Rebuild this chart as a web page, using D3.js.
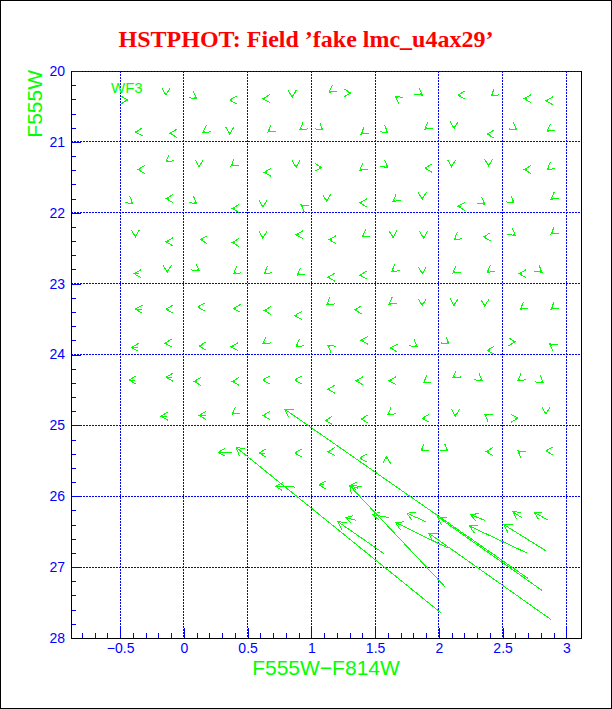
<!DOCTYPE html>
<html><head><meta charset="utf-8">
<script src="https://cdn.jsdelivr.net/npm/d3@7"></script>
<style>body{margin:0;background:#fff}</style>
</head><body><svg id="box" width="612" height="709"></svg>
<script>
// tick values
let xTicks=[-0.5,0,0.5,1,1.5,2,2.5,3];
let yTicks=[20,21,22,23,24,25,26,27,28];
// fake stars: [colour out, mag out, colour in, mag in] (arrow points to the "out" end)
let gridStars=[
[-0.44,20.41,-0.46,20.41],[-0.14,20.34,-0.14,20.31],[0.10,20.39,0.085,20.37],[0.36,20.41,0.38,20.41],[0.62,20.39,0.64,20.39],[0.85,20.37,0.85,20.34],[1.14,20.30,1.155,20.28],[1.31,20.31,1.29,20.31],[1.66,20.36,1.675,20.38],[1.87,20.34,1.855,20.32],[2.15,20.34,2.17,20.34],[2.41,20.35,2.425,20.33],[2.67,20.39,2.69,20.39],[2.84,20.42,2.86,20.42],
[-0.38,20.86,-0.36,20.86],[-0.11,20.88,-0.09,20.88],[0.15,20.87,0.165,20.85],[0.36,20.89,0.36,20.86],[0.66,20.86,0.675,20.84],[0.91,20.83,0.925,20.81],[1.09,20.83,1.075,20.81],[1.39,20.89,1.405,20.87],[1.60,20.87,1.585,20.85],[1.89,20.82,1.905,20.80],[2.12,20.81,2.12,20.78],[2.38,20.89,2.40,20.89],[2.61,20.83,2.595,20.81],[2.85,20.85,2.865,20.83],
[-0.36,21.39,-0.34,21.39],[-0.14,21.28,-0.125,21.26],[0.12,21.35,0.12,21.32],[0.37,21.34,0.385,21.32],[0.63,21.43,0.65,21.43],[0.88,21.36,0.88,21.33],[1.08,21.36,1.06,21.36],[1.38,21.40,1.395,21.38],[1.60,21.36,1.585,21.34],[1.89,21.37,1.91,21.37],[2.10,21.35,2.10,21.32],[2.39,21.34,2.39,21.31],[2.67,21.39,2.69,21.39],[2.85,21.39,2.865,21.37],
[-0.40,21.87,-0.415,21.85],[-0.14,21.80,-0.12,21.80],[0.10,21.87,0.085,21.85],[0.38,21.94,0.40,21.94],[0.62,21.92,0.62,21.89],[0.92,21.89,0.935,21.91],[1.12,21.84,1.12,21.81],[1.38,21.86,1.40,21.86],[1.64,21.84,1.655,21.82],[1.87,21.81,1.87,21.78],[2.15,21.91,2.17,21.91],[2.36,21.88,2.345,21.86],[2.59,21.86,2.575,21.84],[2.88,21.81,2.895,21.79],
[-0.38,22.34,-0.38,22.31],[-0.14,22.41,-0.12,22.41],[0.13,22.38,0.15,22.38],[0.38,22.42,0.40,22.42],[0.62,22.36,0.62,22.33],[0.88,22.31,0.90,22.31],[1.14,22.38,1.16,22.38],[1.40,22.34,1.415,22.32],[1.64,22.35,1.64,22.32],[1.88,22.36,1.88,22.33],[2.12,22.38,2.135,22.36],[2.35,22.34,2.37,22.34],[2.60,22.32,2.585,22.30],[2.88,22.30,2.895,22.28],
[-0.39,22.86,-0.35,22.86],[-0.13,22.84,-0.13,22.81],[0.12,22.82,0.105,22.80],[0.39,22.86,0.405,22.84],[0.63,22.86,0.645,22.84],[0.89,22.88,0.905,22.86],[1.13,22.91,1.15,22.91],[1.38,22.88,1.40,22.88],[1.63,22.83,1.645,22.81],[1.87,22.86,1.87,22.83],[2.11,22.85,2.125,22.83],[2.38,22.84,2.395,22.82],[2.63,22.86,2.65,22.86],[2.81,22.84,2.795,22.82],
[-0.38,23.36,-0.33,23.36],[-0.14,23.36,-0.12,23.36],[0.11,23.33,0.13,23.33],[0.39,23.35,0.41,23.35],[0.63,23.38,0.65,23.38],[0.87,23.45,0.89,23.45],[1.12,23.30,1.135,23.28],[1.34,23.37,1.36,23.37],[1.61,23.29,1.625,23.27],[1.87,23.31,1.87,23.28],[2.12,23.31,2.12,23.28],[2.36,23.32,2.36,23.29],[2.64,23.36,2.655,23.34],[2.88,23.36,2.895,23.34],
[-0.41,23.90,-0.36,23.90],[-0.15,23.84,-0.13,23.84],[0.12,23.88,0.14,23.88],[0.37,23.89,0.39,23.89],[0.62,23.85,0.635,23.83],[0.88,23.89,0.895,23.87],[1.13,23.87,1.145,23.89],[1.39,23.80,1.41,23.80],[1.62,23.91,1.64,23.91],[1.83,23.89,1.815,23.87],[2.08,23.85,2.065,23.83],[2.38,23.94,2.40,23.94],[2.60,23.82,2.58,23.82],[2.87,23.85,2.885,23.87],
[-0.43,24.36,-0.38,24.36],[-0.14,24.32,-0.09,24.32],[0.08,24.38,0.10,24.38],[0.38,24.38,0.40,24.38],[0.62,24.36,0.64,24.36],[0.87,24.36,0.89,24.36],[1.13,24.49,1.15,24.49],[1.35,24.37,1.37,24.37],[1.61,24.37,1.63,24.37],[1.88,24.40,1.895,24.38],[2.11,24.33,2.125,24.31],[2.34,24.37,2.325,24.35],[2.62,24.37,2.635,24.35],[2.82,24.40,2.805,24.38],
[-0.18,24.87,-0.13,24.87],[0.12,24.86,0.17,24.86],[0.38,24.84,0.395,24.82],[0.62,24.86,0.64,24.86],[1.11,24.93,1.13,24.93],[1.39,24.91,1.41,24.91],[1.60,24.85,1.615,24.83],[1.87,24.90,1.89,24.90],[2.13,24.87,2.13,24.84],[2.36,24.84,2.375,24.86],[2.62,24.90,2.60,24.90],[2.84,24.84,2.84,24.81],
[0.27,25.38,0.38,25.38],[0.59,25.39,0.64,25.39],[0.87,25.39,0.89,25.39],[1.13,25.37,1.15,25.37],[1.38,25.46,1.40,25.46],[1.59,25.44,1.59,25.47],[1.86,25.36,1.875,25.34],[2.07,25.36,2.055,25.34],[2.37,25.37,2.39,25.37],[2.62,25.36,2.635,25.38],[2.84,25.36,2.86,25.36],
[0.72,25.86,0.87,25.87],[1.06,25.84,1.10,25.84],[1.30,25.85,1.40,25.86],
[1.27,26.30,1.35,26.34],[1.48,26.26,1.61,26.30],[1.75,26.24,1.90,26.36],[2.25,26.26,2.36,26.34],[2.58,26.22,2.65,26.30],[2.75,26.23,2.86,26.34]
];
let faintStars=[
[0.79,24.77,2.70,27.16],[0.41,25.31,2.02,27.65],[1.30,25.85,2.05,27.28],[1.21,26.36,1.57,26.81],
[1.66,26.37,2.07,26.73],[1.99,26.29,2.81,27.33],[1.92,26.52,2.88,27.74],[2.24,26.42,2.69,26.80],[2.51,26.40,2.84,26.77]
];

let box=d3.select("#box");
let w=612,h=709;
let pL=71,pR=581,pT=71,pB=638;
let xScale=d3.scaleLinear().domain([-0.885,3.115]).range([pL,pR]);
let yScale=d3.scaleLinear().domain([20,28]).range([pT,pB]);
let blue="#0000ff",green="#00ff00";

box.append("rect").attr("x",0.5).attr("y",0.5).attr("width",w-1).attr("height",h-1).attr("fill","#fff").attr("stroke","#000");

box.append("text").attr("x",306).attr("y",47).attr("text-anchor","middle")
  .style("font","bold 24px 'Liberation Serif'").attr("fill","#ff0000")
  .text("HSTPHOT: Field \u2019fake lmc_u4ax29\u2019");

// frame
box.append("rect").attr("x",pL).attr("y",pT).attr("width",pR-pL).attr("height",pB-pT)
  .attr("fill","none").attr("stroke","#000").attr("shape-rendering","crispEdges");

// dotted grid
box.selectAll(".gx").data(xTicks).enter().append("line")
  .attr("x1",d=>xScale(d)).attr("x2",d=>xScale(d)).attr("y1",pT).attr("y2",pB)
  .attr("stroke",blue).attr("stroke-dasharray","2,1").attr("shape-rendering","crispEdges");
box.selectAll(".gy").data(yTicks.slice(0,-1)).enter().append("line")
  .attr("y1",d=>yScale(d)).attr("y2",d=>yScale(d)).attr("x1",pL).attr("x2",pR)
  .attr("stroke",blue).attr("stroke-dasharray","2,1").attr("shape-rendering","crispEdges");

let fmt=d=>String(d).replace("-","\u2212");
let xAxis=d3.axisBottom(xScale).tickValues(xTicks).tickSize(-10).tickSizeOuter(0).tickPadding(5).tickFormat(fmt);
let xMinor=d3.axisBottom(xScale).tickValues(d3.range(-8,31).map(d=>d/10)).tickSize(-5).tickSizeOuter(0).tickFormat("");
let yAxis=d3.axisLeft(yScale).tickValues(yTicks).tickSize(-10).tickSizeOuter(0).tickPadding(6);
let yMinor=d3.axisLeft(yScale).tickValues(d3.range(100,141).map(d=>d/5)).tickSize(-5).tickSizeOuter(0).tickFormat("");
[[xMinor,"translate(0,"+pB+")"],[xAxis,"translate(0,"+pB+")"],[yMinor,"translate("+pL+",0)"],[yAxis,"translate("+pL+",0)"]].forEach(a=>{
  let g=box.append("g").attr("transform",a[1]).call(a[0]);
  g.select(".domain").remove();
  g.selectAll("line").attr("stroke",blue).attr("shape-rendering","crispEdges");
  g.selectAll("text").attr("fill",blue).style("font","14px 'Liberation Sans'");
});
box.append("line").attr("x1",pL).attr("x2",pR).attr("y1",pB).attr("y2",pB).attr("stroke","#000").attr("shape-rendering","crispEdges");
box.append("line").attr("x1",pL).attr("x2",pL).attr("y1",pT).attr("y2",pB).attr("stroke","#000").attr("shape-rendering","crispEdges");

// axis titles
box.append("text").attr("x",326).attr("y",675).attr("text-anchor","middle")
  .style("font","21px 'Liberation Sans'").attr("fill",green).text("F555W\u2212F814W");
box.append("text").attr("transform","translate(42,70) rotate(-90)").attr("text-anchor","end")
  .style("font","21px 'Liberation Sans'").attr("fill",green).text("F555W");
box.append("text").attr("x",111).attr("y",93).style("font","15px 'Liberation Sans'").attr("fill",green).text("WF3");

// arrows
function arrow(d){
  let x1=xScale(d[2]),y1=yScale(d[3]),x2=xScale(d[0]),y2=yScale(d[1]);
  let a=Math.atan2(y1-y2,x1-x2);
  let len=Math.hypot(x1-x2,y1-y2);
  let hs=len>20?9:8;
  let p="M"+x1+","+y1+"L"+x2+","+y2;
  p+="M"+(x2+hs*Math.cos(a+Math.PI/6))+","+(y2+hs*Math.sin(a+Math.PI/6))+"L"+x2+","+y2+"L"+(x2+hs*Math.cos(a-Math.PI/6))+","+(y2+hs*Math.sin(a-Math.PI/6));
  return p;
}
box.append("g").selectAll("path").data(gridStars.concat(faintStars)).enter().append("path")
  .attr("d",arrow).attr("fill","none").attr("stroke",green).attr("stroke-width",1).attr("shape-rendering","crispEdges");
</script></body></html>
